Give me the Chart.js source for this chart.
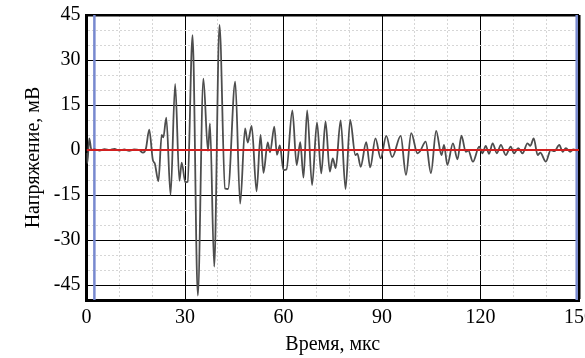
<!DOCTYPE html>
<html lang="ru">
<head>
    <meta charset="UTF-8">
    <meta name="viewport" content="width=device-width, initial-scale=1.0">
    <title>Сигнал</title>
    <script src="https://cdn.jsdelivr.net/npm/chart.js"></script>
    <style>
        * {
            margin: 0;
            padding: 0;
        }
        body {
            background: #fff;
            overflow: hidden;
        }
        .chart-box {
            width: 585px;
            height: 358px;
        }
    </style>
</head>
<body>
    <div class="chart-box">
        <canvas id="myChart"></canvas>
    </div>

    <script>
// waveform (extrema + a few in-between points)
const timeUs = [
    0, 0.25, 0.85, 1.5, 2.5, 4, 5.5, 7, 8.5, 10, 11.5, 13, 14.5, 16, 17.2, 18.1,
    19.1, 20.2, 20.8, 21.9, 22.9, 23.4, 24.3, 25.6, 27.0, 28.3, 29.0, 30.1, 30.8,
    32.3, 33.9, 35.6, 37.0, 37.6, 38.9, 40.5, 42.2, 43.1, 45.3, 46.8, 48.3, 49.1,
    50.3, 51.8, 53.0, 53.9, 55.2, 55.9, 57.2, 58.0, 58.9, 60.0, 60.9, 62.7, 64.0,
    65.1, 66.1, 67.2, 68.7, 70.2, 71.5, 72.8, 74.1, 75.0, 75.9, 77.4, 78.9, 80.3,
    81.9, 82.5, 83.5, 85.2, 86.4, 88.0, 89.6, 91.3, 93.1, 95.7, 97.3, 98.9, 100.8,
    101.6, 103.3, 104.9, 106.5, 108.1, 108.9, 109.9, 111.6, 113.0, 114.2, 115.5,
    116.3, 117.7, 119.6, 120.6, 121.6, 122.6, 123.7, 125.0, 126.2, 127.7, 129.2,
    130.2, 131.5, 132.8, 134.3, 135.2, 136.2, 137.4, 138.2, 139.9, 141.4, 142.5,
    144.0, 145.0, 146.0, 147.3, 148.3, 149.3
];
const voltageMv = [
    -1.0, -4.4, 3.9, 0, 0.2, -0.2, 0.3, 0, 0.4, -0.2, 0.2, -0.3, 0.2, 0, -0.9, 0.5,
    6.8, -3.3, -4.5, -10.4, 5.0, 4.2, 10.8, -15.0, 22.0, -10.3, -4.2, -10.8, -10.6,
    38.3, -48.5, 23.8, -0.3, 8.9, -38.9, 41.7, -12.8, -13.0, 22.8, -17.9, 7.2, 2.5,
    8.0, -13.8, 5.0, -7.6, 2.5, -0.8, 7.8, -1.6, 1.5, -6.7, -6.5, 13.2, -5.0,
    2.6, -9.2, 13.2, -11.7, 9.2, -7.8, 9.5, -7.2, -2.8, -6.0, 9.9, -13.0, 10.0,
    -1.7, -1.2, -5.6, 2.6, -5.8, 3.9, -2.8, 4.7, -2.4, 4.7, -8.3, 5.6, -1.1,
    -0.4, 2.8, -7.7, 6.4, -1.7, 1.7, -5.0, 2.2, -3.1, 4.8, -0.6,
    -0.2, -3.9, 1.1, -1.1, 1.4, -1.3, 2.2, -1.1, 1.7, -1.7, 1.1,
    -1.1, 0.6, -1.1, 2.2, 1.4, 3.9, -1.7, -0.9, -3.9, 0.0, -0.4,
    1.7, -0.6, 0.6, -0.6, 0.2, -0.2
];
const xTickLabels = [0, 30, 60, 90, 120, 150];
const yTickLabels = [-45, -30, -15, 0, 15, 30, 45];
const cursorsUs = [2.4, 149.3];
const baselineMv = 0;

const X_MIN = 0, X_MAX = 150;
const Y_MIN = -50, Y_MAX = 45;

document.addEventListener("DOMContentLoaded", function () {
    Chart.defaults.font.family = "'Liberation Serif', 'Times New Roman', serif";
    Chart.defaults.color = '#000';

    const wave = timeUs.map((t, i) => ({ x: t, y: voltageMv[i] }));

    const datasets = [{
        data: wave,
        borderColor: '#4d4d4d',
        borderWidth: 1.8,
        pointRadius: 0,
        cubicInterpolationMode: 'monotone',
        order: 2
    }, {
        data: [{ x: X_MIN, y: baselineMv }, { x: X_MAX, y: baselineMv }],
        borderColor: '#d21f1f',
        borderWidth: 2,
        pointRadius: 0,
        order: 1
    }];
    cursorsUs.forEach(c => {
        datasets.push({
            data: [{ x: c, y: Y_MIN }, { x: c, y: Y_MAX }],
            borderColor: '#7889cf',
            borderWidth: 2.5,
            pointRadius: 0,
            order: 3
        });
    });

    const isMajorX = v => v % 30 === 0;
    const isMajorY = v => v % 15 === 0;

    new Chart(document.getElementById('myChart'), {
        type: 'line',
        data: { datasets: datasets },
        options: {
            responsive: true,
            maintainAspectRatio: false,
            animation: false,
            layout: { padding: { top: 15, right: 6, left: 0, bottom: 0 } },
            plugins: {
                legend: { display: false },
                tooltip: { enabled: false }
            },
            scales: {
                x: {
                    type: 'linear',
                    min: X_MIN,
                    max: X_MAX,
                    ticks: {
                        stepSize: 10,
                        padding: 6,
                        maxRotation: 0,
                        autoSkip: false,
                        font: { size: 20 },
                        callback: v => xTickLabels.includes(v) ? String(v) : ''
                    },
                    grid: {
                        drawTicks: false,
                        color: ctx => isMajorX(ctx.tick.value) ? '#000' : '#d6d6d6',
                        lineWidth: ctx => ctx.tick.value === X_MAX ? 2.5 : 1
                    },
                    border: {
                        color: '#000',
                        width: 3,
                        dash: ctx => (ctx.tick && !isMajorX(ctx.tick.value)) ? [2, 2] : []
                    },
                    title: {
                        display: true,
                        text: 'Время, мкс',
                        font: { size: 20 },
                        padding: { top: 0, bottom: 1 }
                    },
                    afterFit: s => {
                        s.paddingLeft = 0;
                        s.paddingRight = 0;
                        s.height = 58;
                    }
                },
                y: {
                    min: Y_MIN,
                    max: Y_MAX,
                    ticks: {
                        stepSize: 5,
                        padding: 6,
                        autoSkip: false,
                        font: { size: 20 },
                        callback: v => yTickLabels.includes(v) ? String(v) : ''
                    },
                    grid: {
                        drawTicks: false,
                        color: ctx => isMajorY(ctx.tick.value) ? '#000' : '#d6d6d6',
                        lineWidth: ctx => ctx.tick.value === Y_MAX ? 2.5 : 1
                    },
                    border: {
                        color: '#000',
                        width: 3,
                        dash: ctx => (ctx.tick && !isMajorY(ctx.tick.value)) ? [2, 2] : []
                    },
                    title: {
                        display: true,
                        text: 'Напряжение, мВ',
                        font: { size: 20 },
                        padding: { top: 22, bottom: 0 }
                    },
                    afterFit: s => {
                        s.paddingTop = 0;
                        s.paddingBottom = 0;
                        s.width = 86.5;
                    }
                }
            }
        }
    });
});
    </script>
</body>
</html>
